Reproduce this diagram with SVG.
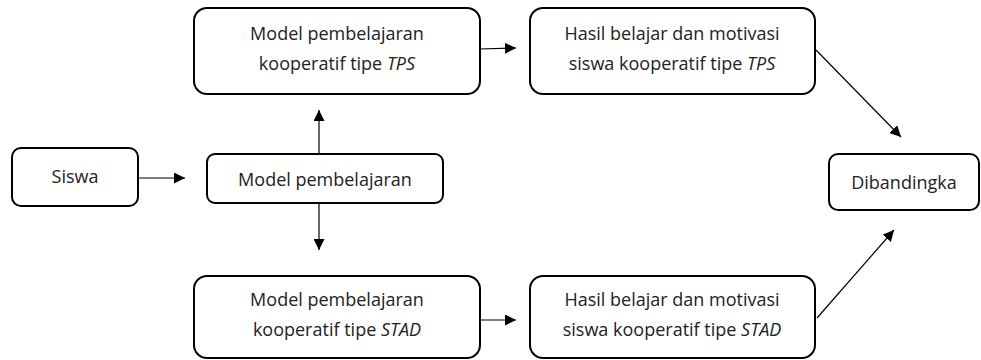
<svg xmlns="http://www.w3.org/2000/svg" width="981" height="360" viewBox="0 0 981 360">
<style>
.box{fill:#fff;stroke:#000;stroke-width:2}
.t{font-family:"Open Sans","Liberation Sans",sans-serif;font-size:18px;fill:#222;text-anchor:middle}
.c{stroke:#000;stroke-width:1.2;fill:none;marker-end:url(#ah)}
</style>
<defs>
<marker id="ah" viewBox="0 0 10 10" refX="10" refY="5" markerWidth="11" markerHeight="11" markerUnits="userSpaceOnUse" orient="auto">
<path d="M0,0 L10,5 L0,10 z" fill="#000"/>
</marker>
</defs>
<rect width="981" height="360" fill="#fff"/>
<g id="connectors">
<line class="c" x1="138" y1="178" x2="185" y2="178"/>
<line class="c" x1="319" y1="154" x2="319" y2="110"/>
<line class="c" x1="319" y1="203" x2="319" y2="250"/>
<line class="c" x1="480" y1="49" x2="516" y2="48"/>
<line class="c" x1="480" y1="320" x2="516" y2="320"/>
<line class="c" x1="816" y1="50" x2="901" y2="137"/>
<line class="c" x1="817" y1="318" x2="894" y2="230"/>
</g>
<g id="siswa">
<rect class="box" x="12" y="148" width="126" height="58" rx="9"/>
<text class="t" x="75" y="183">Siswa</text>
</g>
<g id="model">
<rect class="box" x="207" y="154" width="236" height="49" rx="8"/>
<text class="t" x="325" y="186">Model pembelajaran</text>
</g>
<g id="tps">
<rect class="box" x="194" y="8" width="286" height="86" rx="13"/>
<text class="t" x="337" y="40">Model pembelajaran</text>
<text class="t" x="337" y="70">kooperatif tipe <tspan font-style="italic">TPS</tspan></text>
</g>
<g id="stad">
<rect class="box" x="194" y="276" width="286" height="82" rx="13"/>
<text class="t" x="337" y="306">Model pembelajaran</text>
<text class="t" x="337" y="336">kooperatif tipe <tspan font-style="italic">STAD</tspan></text>
</g>
<g id="hasil-tps">
<rect class="box" x="530" y="8" width="285" height="86" rx="13"/>
<text class="t" x="672" y="40">Hasil belajar dan motivasi</text>
<text class="t" x="672" y="70">siswa kooperatif tipe <tspan font-style="italic">TPS</tspan></text>
</g>
<g id="hasil-stad">
<rect class="box" x="530" y="276" width="285" height="82" rx="13"/>
<text class="t" x="672" y="306">Hasil belajar dan motivasi</text>
<text class="t" x="672" y="336">siswa kooperatif tipe <tspan font-style="italic">STAD</tspan></text>
</g>
<g id="dibandingka">
<rect class="box" x="829" y="154" width="150" height="56" rx="9"/>
<text class="t" x="904" y="189">Dibandingka</text>
</g>
</svg>
